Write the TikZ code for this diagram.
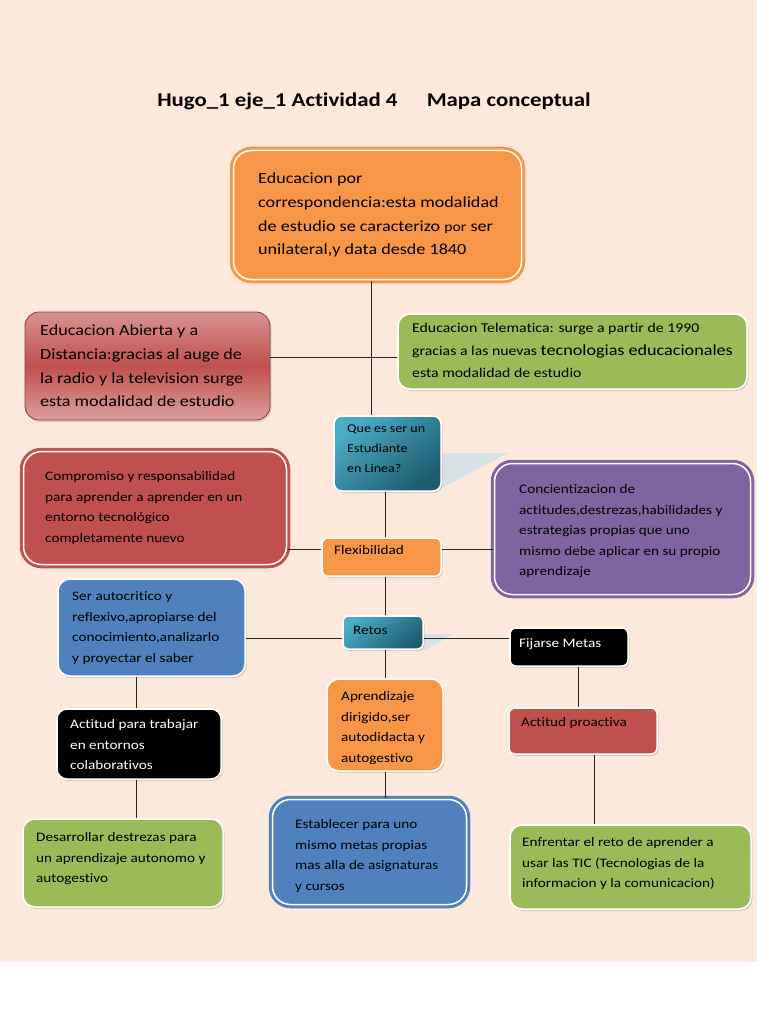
\documentclass[tikz,border=0pt]{standalone}
\usepackage{fontspec}
\setmainfont{Carlito}[FakeStretch=1.17, Ligatures=NoCommon]
\usetikzlibrary{shadows}

\definecolor{fondo}{RGB}{253,233,219}
\definecolor{naranja}{RGB}{247,150,70}
\definecolor{rojo}{RGB}{192,80,77}
\definecolor{verde}{RGB}{155,187,89}
\definecolor{morado}{RGB}{128,100,162}
\definecolor{azul}{RGB}{79,129,189}
\definecolor{turquesa}{RGB}{75,172,198}
\definecolor{turquesaosc}{RGB}{30,92,112}
\definecolor{cuna}{RGB}{214,226,229}

\tikzset{
    caja/.style={rectangle, rounded corners=8pt, draw=white, line width=1.5pt, inner sep=0pt,
        drop shadow={shadow xshift=1.5pt, shadow yshift=-2pt, fill=black!30, opacity=.5}},
    doble/.style={rectangle, rounded corners=18pt, line width=3pt, double=white, double distance=1.5pt, inner sep=0pt},
    azulado/.style={top color=turquesa, bottom color=turquesaosc, shading angle=40},
    texto/.style={anchor=north west, align=left, inner sep=0pt, text=black, font=\fontsize{13}{20.5}\selectfont},
    grande/.style={texto, font=\fontsize{15.5}{23.8}\selectfont},
    linea/.style={line width=0.8pt, black!85},
}

\begin{document}
\begin{tikzpicture}[x=1pt, y=-1pt]
    \useasboundingbox (0,0) rectangle (768,1024);
    \fill[fondo] (0,0) rectangle (757,962);

    \node[font=\fontsize{19.5}{24}\selectfont\bfseries] (titulo) at (374,101) {Hugo\_1 eje\_1 Actividad 4\hspace{1.5em}Mapa conceptual};

    % cajas
    \node[doble, draw=naranja, fill=naranja, minimum width=288pt, minimum height=129pt] (corr) at (377.5,215) {};
    \node[caja, draw=rojo!75!black, line width=0.8pt, top color=rojo!62!white, bottom color=rojo!55!white, middle color=rojo, rounded corners=14pt, minimum width=245pt, minimum height=108pt] (abierta) at (147.5,366) {};
    \node[caja, fill=verde, rounded corners=12pt, minimum width=349pt, minimum height=75pt] (telem) at (572.5,351.5) {};

    % cuna de la pregunta
    \coordinate (punta1) at (508,453);
    \fill[cuna] (punta1) -- (440,453) -- (438,490) -- cycle;
    \node[caja, azulado, minimum width=107pt, minimum height=75pt] (que) at (387.5,453.5) {};

    \node[doble, draw=rojo, fill=rojo, minimum width=263pt, minimum height=113pt] (compromiso) at (155,508) {};
    \node[caja, fill=naranja, rounded corners=5pt, minimum width=119pt, minimum height=38pt] (flex) at (381.5,557) {};
    \node[doble, draw=morado, fill=morado, minimum width=256pt, minimum height=131pt] (concien) at (622.5,529) {};

    \node[caja, fill=azul, rounded corners=12pt, minimum width=187pt, minimum height=97pt] (ser) at (151.5,627.5) {};
    \coordinate (punta2) at (453,634);
    \fill[cuna] (punta2) -- (420,634) -- (424,651) -- cycle;
    \node[caja, azulado, rounded corners=5pt, minimum width=80pt, minimum height=33pt] (retos) at (383,632.5) {};
    \node[caja, fill=black, rounded corners=6pt, minimum width=118pt, minimum height=38pt] (fijarse) at (569,647) {};

    \node[caja, fill=naranja, rounded corners=12pt, minimum width=116pt, minimum height=92pt] (aprend) at (385,725) {};
    \node[caja, fill=black, rounded corners=10pt, minimum width=164pt, minimum height=70pt] (trabajar) at (139,744) {};
    \node[caja, fill=rojo, rounded corners=6pt, minimum width=148pt, minimum height=46pt] (proactiva) at (583,731) {};

    \node[caja, fill=verde, rounded corners=12pt, minimum width=200pt, minimum height=88pt] (desarrollar) at (123,863) {};
    \node[doble, draw=azul, fill=azul, minimum width=194pt, minimum height=105pt] (establecer) at (369.5,852) {};
    \node[caja, fill=verde, rounded corners=12pt, minimum width=241pt, minimum height=84pt] (enfrentar) at (630.5,867) {};

    % conectores
    \draw[linea] ([xshift=-6.5pt]corr.south) -- ([xshift=-6.5pt]corr.south |- que.north);
    \draw[linea] ([yshift=9pt]abierta.east) -- ([yshift=9pt]abierta.east -| telem.west);
    \draw[linea] ([xshift=-2pt]que.south) -- ([xshift=-2pt]que.south |- flex.north);
    \draw[linea] ([yshift=8pt]flex.west) -- ([yshift=8pt]flex.west -| compromiso.east);
    \draw[linea] ([yshift=8pt]flex.east) -- ([yshift=8pt]flex.east -| concien.west);
    \draw[linea] ([xshift=2pt]retos.north) -- ([xshift=2pt]retos.north |- flex.south);
    \draw[linea] ([yshift=-5.5pt]retos.west) -- ([yshift=-5.5pt]retos.west -| ser.east);
    \draw[linea] ([yshift=-5.5pt]retos.east) -- ([yshift=-5.5pt]retos.east -| fijarse.west);
    \draw[linea] ([xshift=2pt]retos.south) -- ([xshift=2pt]retos.south |- aprend.north);
    \draw[linea] ([xshift=9pt]fijarse.south) -- ([xshift=9pt]fijarse.south |- proactiva.north);
    \draw[linea] ([xshift=-3pt]trabajar.north) -- ([xshift=-3pt]trabajar.north |- ser.south);
    \draw[linea] ([xshift=-3pt]trabajar.south) -- ([xshift=-3pt]trabajar.south |- desarrollar.north);
    \draw[linea] (aprend.south) -- (aprend.south |- establecer.north);
    \draw[linea] ([xshift=11pt]proactiva.south) -- ([xshift=11pt]proactiva.south |- enfrentar.north);

    % textos
    \node[grande] (tcorr) at (258,172.5) {Educacion por\\correspondencia:esta modalidad\\de estudio se caracterizo {\fontsize{13.5}{23.8}\selectfont por} ser\\unilateral,y data desde 1840};
    \node[grande] (tabierta) at (40,324.5) {Educacion Abierta y a\\Distancia:gracias al auge de\\la radio y la television surge\\esta modalidad de estudio};
    \node[texto, font=\fontsize{13.5}{22.5}\selectfont] (ttelem) at (412,323) {Educacion Telematica: surge a partir de 1990\\gracias a las nuevas {\fontsize{15.5}{22.5}\selectfont tecnologias educacionales}\\esta modalidad de estudio};
    \node[texto, font=\fontsize{12}{20}\selectfont] (tque) at (347,425) {Que es ser un\\Estudiante\\en Linea?};
    \node[texto] (tcompromiso) at (45,471.5) {Compromiso y responsabilidad\\para aprender a aprender en un\\entorno tecnológico\\completamente nuevo};
    \node[texto] (tflex) at (334,545.5) {Flexibilidad};
    \node[texto] (tconcien) at (519,484.5) {Concientizacion de\\actitudes,destrezas,habilidades y\\estrategias propias que uno\\mismo debe aplicar en su propio\\aprendizaje};
    \node[texto] (tser) at (72,591.5) {Ser autocritico y\\reflexivo,apropiarse del\\conocimiento,analizarlo\\y proyectar el saber};
    \node[texto] (tretos) at (353,625.5) {Retos};
    \node[texto, text=white] (tfijarse) at (519,638.5) {Fijarse Metas};
    \begin{scope}
        \clip (aprend.north west) rectangle ([yshift=8pt]aprend.south east);
        \node[texto] (taprend) at (341,691.5) {Aprendizaje\\dirigido,ser\\autodidacta y\\autogestivo};
    \end{scope}
    \node[texto, text=white] (ttrabajar) at (70,719.5) {Actitud para trabajar\\en entornos\\colaborativos};
    \node[texto] (tproactiva) at (521,717.5) {Actitud proactiva};
    \node[texto] (tdesarrollar) at (36,832.5) {Desarrollar destrezas para\\un aprendizaje autonomo y\\autogestivo};
    \node[texto] (testablecer) at (295,819.5) {Establecer para uno\\mismo metas propias\\mas alla de asignaturas\\y cursos};
    \node[texto] (tenfrentar) at (522,837.5) {Enfrentar el reto de aprender a\\usar las TIC (Tecnologias de la\\informacion y la comunicacion)};
\end{tikzpicture}
\end{document}
